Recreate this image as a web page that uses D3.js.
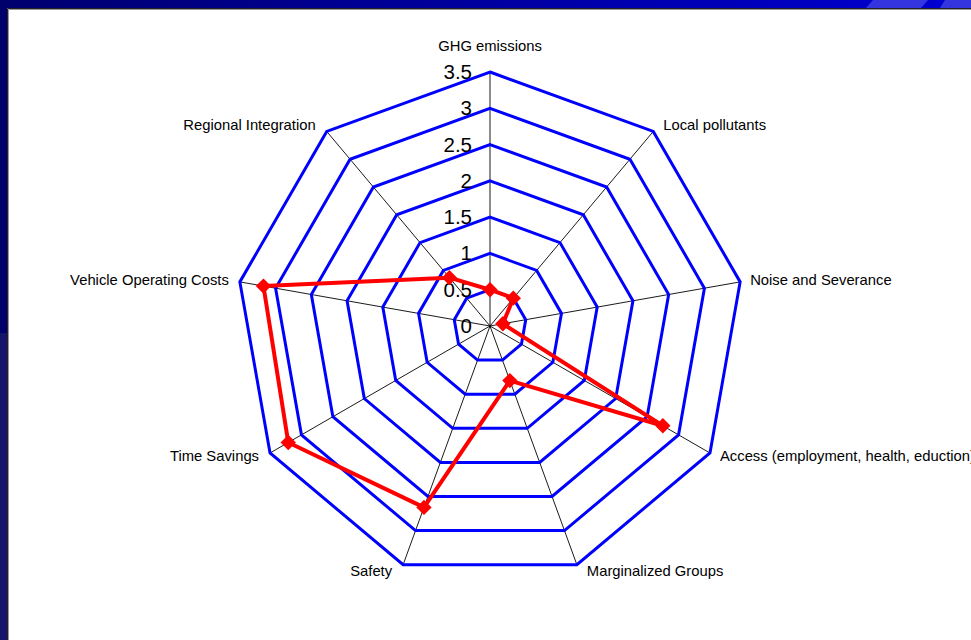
<!DOCTYPE html>
<html>
<head>
<meta charset="utf-8">
<script src="https://cdn.jsdelivr.net/npm/d3@7"></script>
<style>
  body { margin: 0; background: #fff; }
  svg { display: block; }
  text { font-family: Arial, "Liberation Sans", sans-serif; fill: #000; }
</style>
</head>
<body>
<svg id="chart" width="971" height="640"></svg>
<script>
// ------------------------------
// data
// ------------------------------
var categories = ["GHG emissions", "Local pollutants", "Noise and Severance",
  "Access (employment, health, eduction)", "Marginalized Groups", "Safety",
  "Time Savings", "Vehicle Operating Costs", "Regional Integration"];
var scores = [0.5, 0.5, 0.18, 2.75, 0.8, 2.66, 3.21, 3.17, 0.87];
var tickValues = [0, 0.5, 1, 1.5, 2, 2.5, 3, 3.5];
var tickLabels = ["0", "0.5", "1", "1.5", "2", "2.5", "3", "3.5"];

var W = 971, H = 640;
var cx = 490, cy = 326;

var svg = d3.select("#chart");

// slide frame (powerpoint background)
var defs = svg.append("defs");
var grad = defs.append("linearGradient").attr("id", "topBar")
  .attr("x1", "0%").attr("x2", "100%").attr("y1", "0%").attr("y2", "0%");
grad.append("stop").attr("offset", "0").attr("stop-color", "#00006e");
grad.append("stop").attr("offset", "1").attr("stop-color", "#0000d2");

svg.append("rect").attr("x", 0).attr("y", 0).attr("width", W).attr("height", H).attr("fill", "#fff");
svg.append("rect").attr("x", 0).attr("y", 0).attr("width", W).attr("height", 8).attr("fill", "url(#topBar)");
svg.append("path").attr("d", "M873,0 L928,0 L921,8 L866,8 Z").attr("fill", "#3535e0");
svg.append("path").attr("d", "M945,0 L971,0 L971,8 L940,8 Z").attr("fill", "#3535e0");
svg.append("rect").attr("x", 0).attr("y", 0).attr("width", 7).attr("height", 333).attr("fill", "#00006a");
svg.append("rect").attr("x", 0).attr("y", 333).attr("width", 7).attr("height", H - 333).attr("fill", "#14146a");
svg.append("path").attr("d", "M7.5,640 L7.5,8.5 L971,8.5").attr("fill", "none").attr("stroke", "#222").attr("stroke-width", 1);
svg.append("path").attr("d", "M8.5,640 L8.5,9.5 L971,9.5").attr("fill", "none").attr("stroke", "#999").attr("stroke-width", 1);

// ------------------------------
// radar scales
// ------------------------------
var r = d3.scaleLinear().domain([0, 3.5]).range([0, 254]);
var angle = d3.scalePoint().domain(d3.range(categories.length))
  .range([0, 2 * Math.PI * (categories.length - 1) / categories.length]);

function pt(i, v) {
  var a = angle(i);
  return [cx + r(v) * Math.sin(a), cy - r(v) * Math.cos(a)];
}

var g = svg.append("g");

// spokes
categories.forEach(function(c, i) {
  var p = pt(i, 3.5);
  g.append("line").attr("x1", cx).attr("y1", cy).attr("x2", p[0]).attr("y2", p[1])
    .attr("stroke", "#000").attr("stroke-width", 0.9);
});

// grid rings
var ringLine = d3.line().curve(d3.curveLinearClosed);
tickValues.filter(function(t) { return t > 0; }).forEach(function(t) {
  g.append("path")
    .attr("d", ringLine(categories.map(function(c, i) { return pt(i, t); })))
    .attr("fill", "none").attr("stroke", "#0000ff").attr("stroke-width", 3)
    .attr("stroke-linejoin", "miter");
});

// tick labels up the first spoke
tickValues.forEach(function(t, k) {
  g.append("text")
    .attr("x", cx - 18).attr("y", cy - r(t) + 7)
    .attr("text-anchor", "end")
    .style("font-size", "20.5px")
    .text(tickLabels[k]);
});

// category labels
categories.forEach(function(c, i) {
  var a = angle(i);
  var p = pt(i, 3.5);
  var s = Math.sin(a);
  var t = g.append("text").style("font-size", "14.8px").text(c);
  if (Math.abs(s) < 0.01) {
    t.attr("x", p[0]).attr("y", p[1] - 21).attr("text-anchor", "middle");
  } else {
    var dy = 4.5 - 7.5 * Math.cos(a);
    t.attr("x", p[0] + (s > 0 ? 10 : -11)).attr("y", p[1] + dy)
      .attr("text-anchor", s > 0 ? "start" : "end");
  }
});

// data series
var series = scores.map(function(v, i) { return pt(i, v); });
g.append("path")
  .attr("d", ringLine(series))
  .attr("fill", "none").attr("stroke", "#ff0000").attr("stroke-width", 4)
  .attr("stroke-linejoin", "round");

g.selectAll(".marker").data(series).enter().append("path")
  .attr("class", "marker")
  .attr("transform", function(d) { return "translate(" + d[0] + "," + d[1] + ")"; })
  .attr("d", d3.symbol().type(d3.symbolDiamond2).size(150))
  .attr("fill", "#ff0000");
</script>
</body>
</html>
